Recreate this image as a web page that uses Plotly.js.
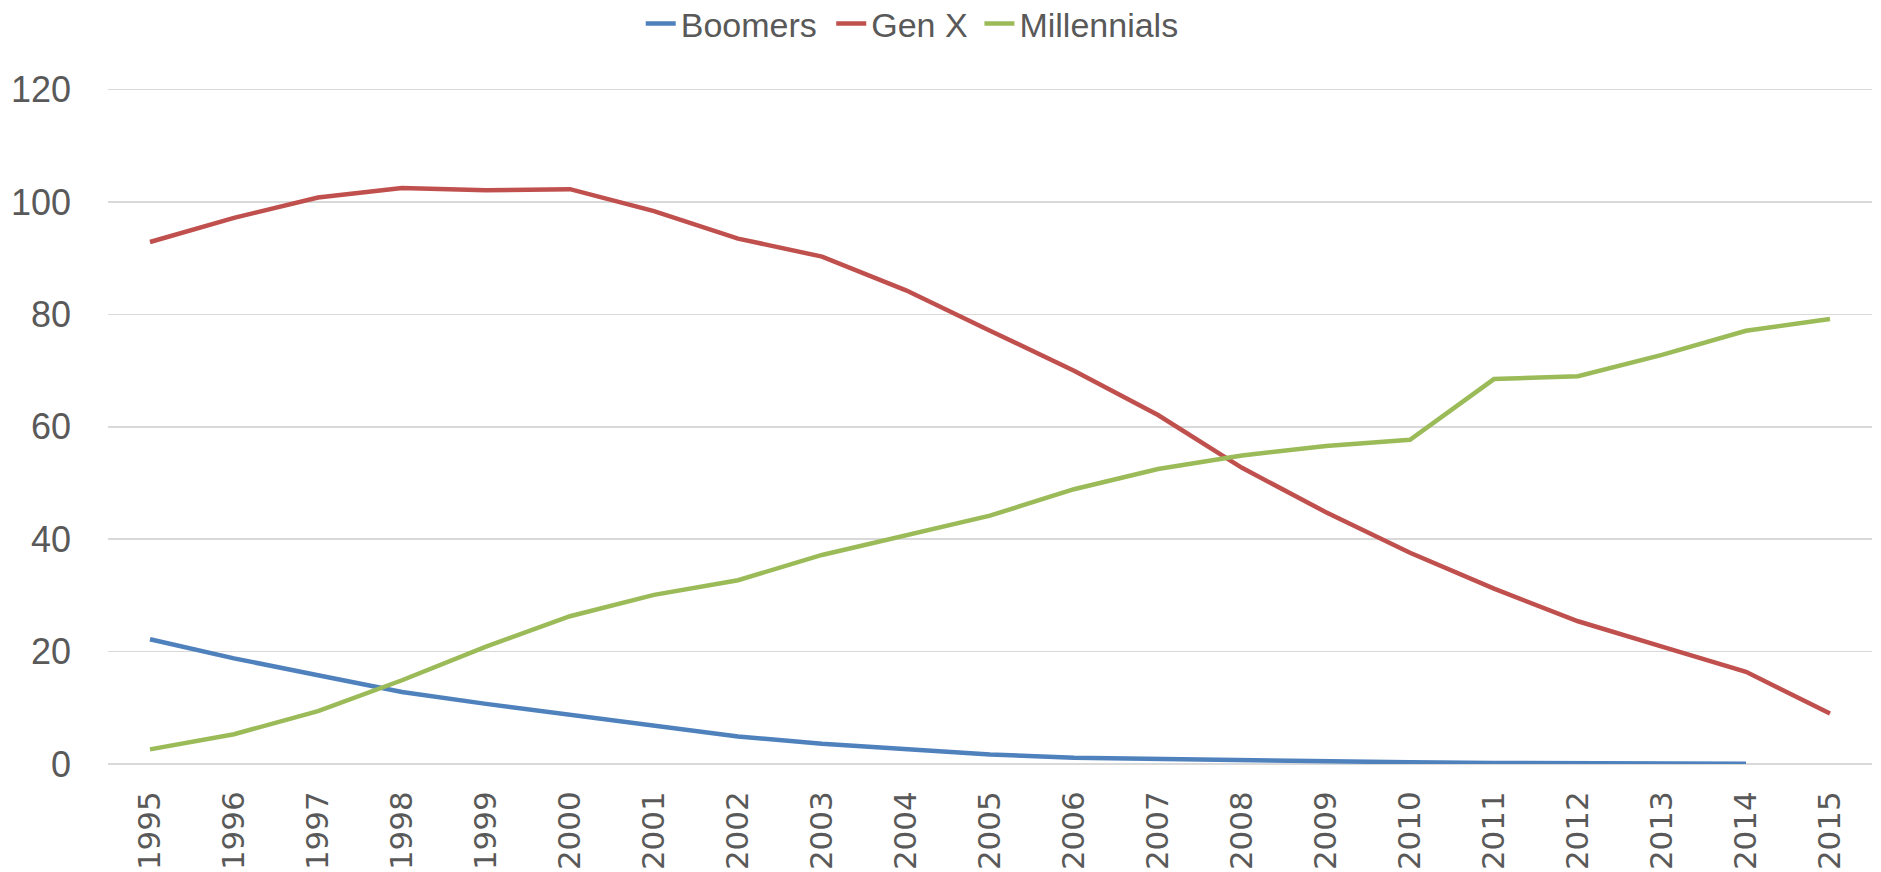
<!DOCTYPE html>
<html>
<head>
<meta charset="utf-8">
<script src="https://cdn.plot.ly/plotly-3.0.1.min.js"></script>
<style>
html,body{margin:0;padding:0;background:#fff;}
#chart{width:1881px;height:872px;}
</style>
</head>
<body>
<div id="chart"></div>
<script>
const years = ["1995","1996","1997","1998","1999","2000","2001","2002","2003","2004","2005","2006","2007","2008","2009","2010","2011","2012","2013","2014","2015"];
const boomers = [22.2,18.8,15.8,12.8,10.7,8.8,6.8,4.9,3.6,2.6,1.7,1.1,0.85,0.6,0.4,0.3,0.2,0.15,0.1,0.05,null];
const genX = [92.9,97.2,100.8,102.5,102.1,102.3,98.4,93.5,90.3,84.3,77.1,70.0,62.1,52.7,44.8,37.6,31.2,25.4,20.9,16.4,9.0];
const millennials = [2.6,5.3,9.4,14.9,20.9,26.3,30.1,32.7,37.2,40.8,44.2,48.9,52.5,54.9,56.6,57.7,68.5,69.0,72.8,77.1,79.2];
const seriesNames = ["Boomers","Gen X","Millennials"];
const yTicks = [0,20,40,60,80,100,120];

const colors = ["#4F81BD","#C0504D","#9BBB59"];
const legendIds = ["legend","legend2","legend3"];
const data = [boomers, genX, millennials].map((vals, i) => ({
  type: "scatter",
  mode: "lines",
  name: seriesNames[i],
  legend: legendIds[i],
  x: years,
  y: vals,
  line: {color: colors[i], width: 4.5},
  connectgaps: false
}));

const legFont = {family: "Liberation Sans, Arial, sans-serif", size: 34, color: "#595959"};
function leg(x) {
  return {orientation: "h", x: x, xanchor: "left", y: 1.0947, yanchor: "middle",
          font: legFont, itemwidth: 30, bgcolor: "rgba(0,0,0,0)"};
}

const layout = {
  width: 1881,
  height: 872,
  margin: {l: 108, r: 9, t: 88, b: 108, autoexpand: false},
  paper_bgcolor: "#ffffff",
  plot_bgcolor: "#ffffff",
  showlegend: true,
  legend: leg(0.302),
  legend2: leg(0.410),
  legend3: leg(0.494),
  xaxis: {
    type: "category",
    range: [-0.5, 20.5],
    showgrid: false,
    zeroline: false,
    showline: false,
    ticks: "",
    tickangle: -90,
    tickfont: {family: "DejaVu Sans, sans-serif", size: 31, color: "#595959"},
    ticklabelstandoff: 20,
    fixedrange: true
  },
  yaxis: {
    range: [0, 120.3],
    tickvals: yTicks,
    ticktext: yTicks.map(String),
    showgrid: true,
    gridcolor: "#d9d9d9",
    gridwidth: 1.5,
    zeroline: true,
    zerolinecolor: "#d9d9d9",
    zerolinewidth: 1.5,
    showline: false,
    ticks: "",
    tickfont: {family: "Liberation Sans, Arial, sans-serif", size: 36, color: "#595959"},
    ticklabelstandoff: 36,
    fixedrange: true
  }
};

Plotly.newPlot("chart", data, layout, {displayModeBar: false, staticPlot: true});
</script>
</body>
</html>
